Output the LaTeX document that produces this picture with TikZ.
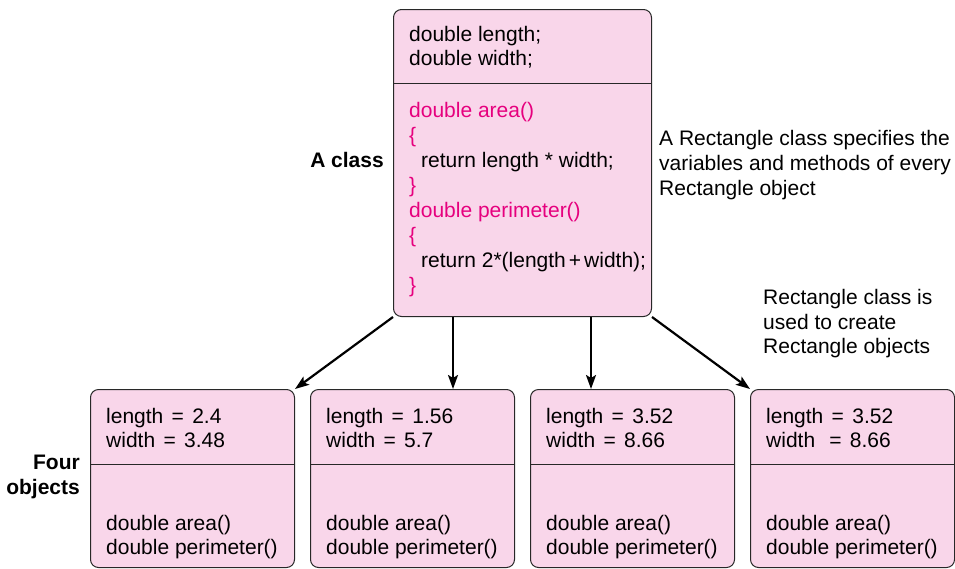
\documentclass[tikz,border=0pt]{standalone}
\usepackage{fontspec}
\setmainfont{Liberation Sans}
\usetikzlibrary{arrows.meta}
\definecolor{boxpink}{RGB}{249,214,234}
\definecolor{codemag}{RGB}{230,0,126}
\definecolor{edgegray}{RGB}{40,40,40}
\newcommand{\myeq}{\hspace{2.5pt} = \hspace{2.5pt}}
\begin{document}
\begin{tikzpicture}[x=1pt,y=-1pt,
  box/.style={draw=edgegray, line width=1pt, fill=boxpink, rounded corners=8pt, inner sep=0pt, anchor=north west},
  txt/.style={anchor=base west, inner sep=0pt, font=\fontsize{21}{25}\selectfont},
  mag/.style={txt, text=codemag},
  lbl/.style={anchor=base east, inner sep=0pt, font=\fontsize{21}{25}\selectfont\bfseries},
  divider/.style={draw=edgegray, line width=1pt},
  arr/.style={line width=2.2pt, -{Stealth[length=14pt,width=10pt,inset=3pt]}}]
\useasboundingbox (0,0) rectangle (955,568);

% class box
\node[box, minimum width=258pt, minimum height=307pt] (cls) at (393,9) {};
\draw[divider] ([yshift=-74pt]cls.north west) -- ([yshift=-74pt]cls.north east);
\node[txt] (c1) at (409,41) {double length;};
\node[txt] (c2) at (409,65) {double width;};
\node[mag] (m1) at (409,117) {double area()};
\node[mag] (m2) at (409,142) {\{};
\node[txt] (m3) at (421,167) {return length * width;};
\node[mag] (m4) at (409,192) {\}};
\node[mag] (m5) at (409,217) {double perimeter()};
\node[mag] (m6) at (409,242) {\{};
\node[txt] (m7) at (421,267) {return 2*(length\hspace{3pt}+\hspace{3pt}width);};
\node[mag] (m8) at (409,292) {\}};

% labels
\node[lbl] (lc) at (384,167) {A class};
\node[lbl] (lf1) at (80,469) {Four};
\node[lbl] (lf2) at (80,494) {objects};

\node[txt] (r1) at (659,145) {A Rectangle class specifies the};
\node[txt] (r2) at (659,170) {variables and methods of every};
\node[txt] (r3) at (659,195) {Rectangle object};
\node[txt] (s1) at (763,304) {Rectangle class is};
\node[txt] (s2) at (763,329) {used to create};
\node[txt] (s3) at (763,353) {Rectangle objects};

% object boxes
\foreach \i/\x/\len/\wid in {1/90/{length\myeq 2.4}/{width\myeq 3.48},
                             2/310/{length\myeq 1.56}/{width\myeq 5.7},
                             3/530/{length\myeq 3.52}/{width\myeq 8.66},
                             4/750/{length\myeq 3.52}/{width\ \myeq 8.66}} {
  \node[box, minimum width=204pt, minimum height=178pt] (o\i) at (\x,389) {};
  \draw[divider] ([yshift=-75pt]o\i.north west) -- ([yshift=-75pt]o\i.north east);
  \node[txt] (o\i a) at (\x+16,423) {\len};
  \node[txt] (o\i b) at (\x+16,447) {\wid};
  \node[txt] (o\i c) at (\x+16,530) {double area()};
  \node[txt] (o\i d) at (\x+16,554) {double perimeter()};
}

% arrows
\draw[arr] (cls.south west) -- (o1.north east);
\draw[arr] ([xshift=60pt]cls.south west) -- ([xshift=60pt]cls.south west |- o2.north);
\draw[arr] ([xshift=198pt]cls.south west) -- ([xshift=198pt]cls.south west |- o3.north);
\draw[arr] (cls.south east) -- (o4.north west);
\end{tikzpicture}
\end{document}
